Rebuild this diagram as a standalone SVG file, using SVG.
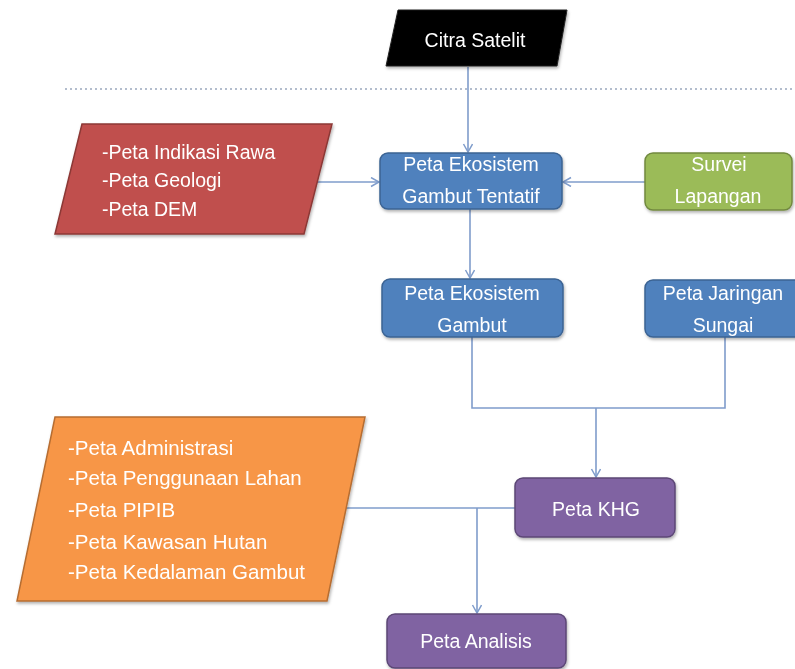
<svg xmlns="http://www.w3.org/2000/svg" width="795" height="669" viewBox="0 0 795 669">
<defs>
<style>
.t{font-family:"Liberation Sans",Arial,sans-serif;font-size:19.5px;fill:#ffffff}
.l{font-size:20.5px}
.m{text-anchor:middle}
.conn{fill:none;stroke:#7f9ccb;stroke-width:1.6}
.blue{fill:#4f81bd;stroke:#3b6393;stroke-width:1.5}
.green{fill:#9bbb59;stroke:#71893f;stroke-width:1.5}
.purple{fill:#8064a2;stroke:#5c4776;stroke-width:1.5}
</style>
<marker id="arr" markerWidth="12" markerHeight="12" refX="9" refY="5" orient="auto" markerUnits="userSpaceOnUse">
<path d="M1,0.5 L9,5 L1,9.5" fill="none" stroke="#7f9ccb" stroke-width="1.5"/>
</marker>
<filter id="sh" x="-10%" y="-10%" width="125%" height="130%">
<feDropShadow dx="1" dy="2" stdDeviation="1.5" flood-color="#000" flood-opacity="0.3"/>
</filter>
</defs>
<rect width="795" height="669" fill="#ffffff"/>
<line x1="65" y1="89" x2="792" y2="89" stroke="#9aa8bd" stroke-width="1.5" stroke-dasharray="2,3"/>
<g id="connectors">
<line class="conn" x1="468" y1="67" x2="468" y2="152" marker-end="url(#arr)"/>
<line class="conn" x1="317" y1="182" x2="379" y2="182" marker-end="url(#arr)"/>
<line class="conn" x1="645" y1="182" x2="563" y2="182" marker-end="url(#arr)"/>
<line class="conn" x1="470" y1="209" x2="470" y2="278" marker-end="url(#arr)"/>
<polyline class="conn" points="472,337 472,408 725,408 725,337"/>
<line class="conn" x1="596" y1="408" x2="596" y2="477" marker-end="url(#arr)"/>
<line class="conn" x1="346" y1="508" x2="515" y2="508"/>
<line class="conn" x1="477" y1="508" x2="477" y2="613" marker-end="url(#arr)"/>
</g>
<g id="citra" filter="url(#sh)">
<polygon points="398,10 567,10 557,66 386,66" fill="#000000" stroke="#222" stroke-width="1"/>
<text class="t m" x="475" y="47" font-size="20">Citra Satelit</text>
</g>
<g id="inputA" filter="url(#sh)">
<polygon points="82,124 332,124 304,234 55,234" fill="#c0504d" stroke="#8c3836" stroke-width="1.5"/>
<text class="t" x="102" y="159">-Peta Indikasi Rawa</text>
<text class="t" x="102" y="187">-Peta Geologi</text>
<text class="t" x="102" y="216">-Peta DEM</text>
</g>
<g id="tentatif" filter="url(#sh)">
<rect class="blue" x="380" y="153" width="182" height="56" rx="8"/>
<text class="t m" x="471" y="171">Peta Ekosistem</text>
<text class="t m" x="471" y="203">Gambut Tentatif</text>
</g>
<g id="survei" filter="url(#sh)">
<rect class="green" x="645" y="153" width="147" height="57" rx="8"/>
<text class="t m" x="719" y="171">Survei</text>
<text class="t m" x="718" y="203">Lapangan</text>
</g>
<g id="gambut" filter="url(#sh)">
<rect class="blue" x="382" y="279" width="181" height="58" rx="8"/>
<text class="t m" x="472" y="300">Peta Ekosistem</text>
<text class="t m" x="472" y="332">Gambut</text>
</g>
<g id="jaringan" filter="url(#sh)">
<rect class="blue" x="645" y="280" width="160" height="57" rx="8"/>
<text class="t m" x="723" y="300">Peta Jaringan</text>
<text class="t m" x="723" y="332">Sungai</text>
</g>
<g id="inputB" filter="url(#sh)">
<polygon points="55,417 365,417 327,601 17,601" fill="#f79646" stroke="#b66d31" stroke-width="1.5"/>
<text class="t l" x="68" y="455">-Peta Administrasi</text>
<text class="t l" x="68" y="485">-Peta Penggunaan Lahan</text>
<text class="t l" x="68" y="517">-Peta PIPIB</text>
<text class="t l" x="68" y="549">-Peta Kawasan Hutan</text>
<text class="t l" x="68" y="579">-Peta Kedalaman Gambut</text>
</g>
<g id="khg" filter="url(#sh)">
<rect class="purple" x="515" y="478" width="160" height="59" rx="8"/>
<text class="t m" x="596" y="516">Peta KHG</text>
</g>
<g id="analisis" filter="url(#sh)">
<rect class="purple" x="387" y="614" width="179" height="54" rx="8"/>
<text class="t m" x="476" y="648">Peta Analisis</text>
</g>
</svg>
